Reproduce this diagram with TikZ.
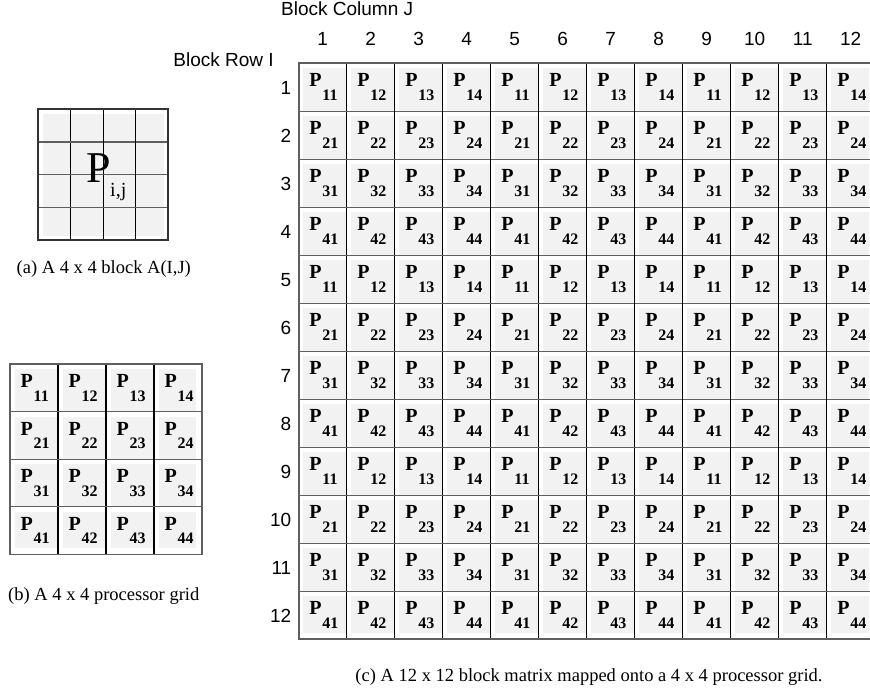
\documentclass[tikz,border=0pt]{standalone}
\usepackage{fontspec}
\setmainfont{Liberation Serif}
\newfontfamily\arialf{Liberation Sans}
\definecolor{cellgray}{RGB}{242,242,242}
\definecolor{linegray}{RGB}{95,95,95}
\begin{document}
\begin{tikzpicture}[x=1pt,y=-1pt,
  pbig/.style={font=\fontsize{20}{20}\selectfont\bfseries, inner sep=0pt, anchor=base west},
  psub/.style={font=\fontsize{16}{16}\selectfont\bfseries, inner sep=0pt, anchor=base west},
  lbl/.style={font=\arialf\fontsize{19}{19}\selectfont, inner sep=0pt},
  captxt/.style={font=\fontsize{18.5}{18.5}\selectfont, inner sep=0pt, anchor=base west},
  vline/.style={line width=1.2pt, black},
  hline/.style={line width=1.2pt, linegray},
  outerline/.style={line width=1.8pt, linegray}]
\useasboundingbox (0,0) rectangle (870,691);
\clip (0,0) rectangle (870,691);
\fill[white] (0,0) rectangle (870,691);

% ---------- (c) big 12 x 12 grid ----------
\def\gx{298.7}
\def\gy{63.3}
\foreach \r in {1,...,12} {
  \foreach \c in {1,...,12} {
    \pgfmathsetmacro\x{\gx+(\c-1)*48}
    \pgfmathsetmacro\y{\gy+(\r-1)*48}
    \pgfmathsetmacro\xr{\c==12 ? \x+42 : \x+48}
    \pgfmathsetmacro\yb{\r==12 ? \y+42 : \y+48}
    \pgfmathtruncatemacro\p{mod(\r-1,4)+1}
    \pgfmathtruncatemacro\q{mod(\c-1,4)+1}
    \fill[cellgray] (\x+4.5,\y+5) rectangle (\xr,\yb);
    \node[pbig] (gP-\r-\c) at (\x+10.5,\y+23.5) {P};
    \node[psub] (gS-\r-\c) at (\x+23.5,\y+37) {\p\q};
  }
}
\foreach \k in {1,...,11} {
  \draw[vline] (\gx+\k*48,\gy) -- (\gx+\k*48,\gy+576);
  \draw[hline] (\gx,\gy+\k*48) -- (\gx+576,\gy+\k*48);
}
\draw[outerline] (\gx,\gy) rectangle (\gx+576,\gy+576);

\foreach \k in {1,...,12} {
  \node[lbl, anchor=east] (rl-\k) at (291.5,\gy+\k*48-23) {\k};
  \node[lbl, anchor=base] (cl-\k) at (\gx+\k*48-24,45.5) {\k};
}
\node[lbl, anchor=base west] (bcj) at (281,15.5) {Block Column J};
\node[lbl, anchor=base east] (bri) at (274,66.5) {Block Row I};

% ---------- (a) 4 x 4 block ----------
\fill[cellgray] (42.5,113.5) rectangle (164,235.5);
\foreach \k in {1,2,3} {
  \draw[vline] (38.3+\k*32.5,109.3) -- (38.3+\k*32.5,240);
  \draw[hline] (38.3,109.3+\k*32.675) -- (168.3,109.3+\k*32.675);
}
\draw[line width=1.8pt, black!80] (38.3,109.3) rectangle (168.3,240);
\node[font=\fontsize{44}{44}\selectfont, inner sep=0pt, anchor=base west] (aP) at (86.5,182.7) {P};
\node[font=\fontsize{20}{20}\selectfont, inner sep=0pt, anchor=base west] (aS) at (110,196.5) {i,j};
\node[captxt] (capa) at (16.5,273) {(a) A 4 x 4 block A(I,J)};

% ---------- (b) 4 x 4 processor grid ----------
\def\bx{10}
\def\by{364}
\foreach \r in {1,...,4} {
  \foreach \c in {1,...,4} {
    \pgfmathsetmacro\x{\bx+(\c-1)*48}
    \pgfmathsetmacro\y{\by+(\r-1)*47.6}
    \pgfmathsetmacro\xr{\c==4 ? \x+42 : \x+48}
    \pgfmathsetmacro\yb{\r==4 ? \y+41.6 : \y+47.6}
    \fill[cellgray] (\x+4.5,\y+5) rectangle (\xr,\yb);
    \node[pbig] (bP-\r-\c) at (\x+10.5,\y+23.5) {P};
    \node[psub] (bS-\r-\c) at (\x+23.5,\y+37) {\r\c};
  }
}
\foreach \k in {1,2,3} {
  \draw[vline] (\bx+\k*48,\by) -- (\bx+\k*48,\by+190.4);
  \draw[hline] (\bx,\by+\k*47.6) -- (\bx+192,\by+\k*47.6);
}
\draw[outerline] (\bx,\by) rectangle (\bx+192,\by+190.4);
\node[captxt] (capb) at (8,600) {(b) A 4 x 4 processor grid};

% ---------- caption (c) ----------
\node[captxt, anchor=base] (capc) at (589,681) {(c) A 12 x 12 block matrix mapped onto a 4 x 4 processor grid.};
\end{tikzpicture}
\end{document}
